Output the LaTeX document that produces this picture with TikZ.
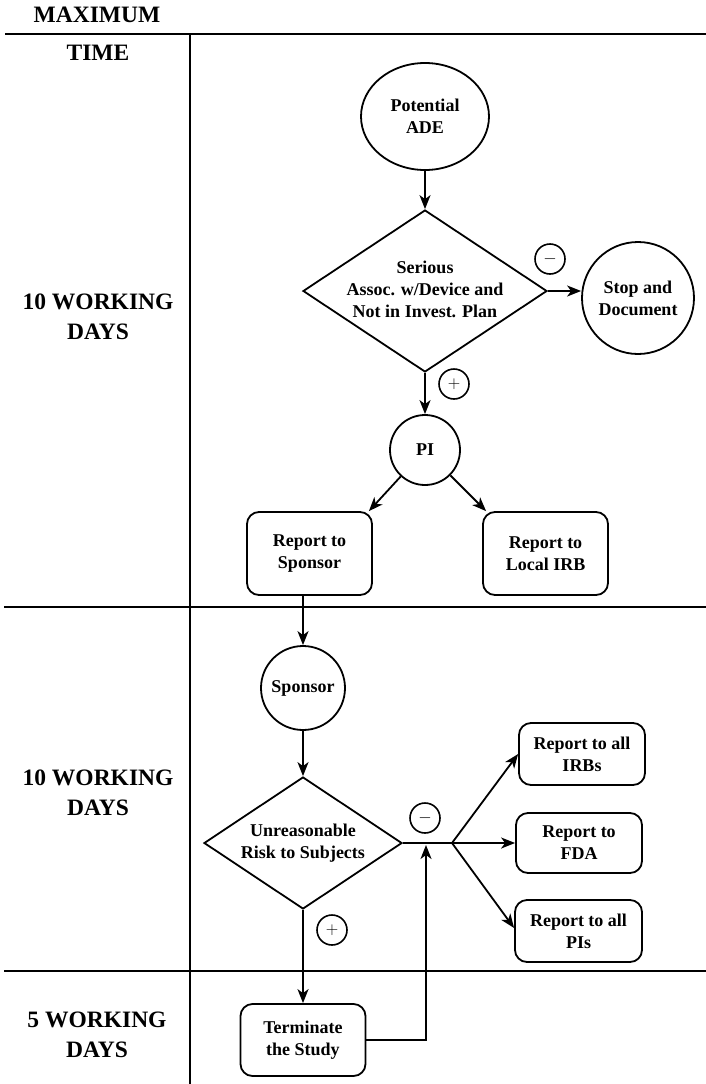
\documentclass[tikz,border=0pt]{standalone}
\usepackage{fontspec}
\setmainfont{Liberation Serif}
\usetikzlibrary{shapes.geometric,arrows.meta}
\newcommand{\ctext}[1]{\makebox[0pt]{\begin{tabular}{@{}c@{}}#1\end{tabular}}}
\begin{document}
\begin{tikzpicture}[x=1pt,y=-1pt,line width=1.8pt,
  lbl/.style={font=\fontsize{18}{22}\selectfont\bfseries, align=center},
  circ/.style={circle, draw, inner sep=0pt, lbl},
  bx/.style={rectangle, rounded corners=12pt, draw, inner sep=0pt, lbl},
  dia/.style={diamond, draw, inner sep=0pt, lbl},
  sign/.style={circle, draw, minimum size=30pt, inner sep=0pt, line width=1.6pt, font=\fontsize{16}{16}\selectfont},
  timelbl/.style={font=\fontsize{23.5}{30}\selectfont\bfseries, align=center},
  arr/.style={-{Stealth[length=14pt,width=11pt,inset=4pt]}},
  rule/.style={line width=2pt}]
\useasboundingbox (0,0) rectangle (706,1084);
% table rules
\draw[rule] (5,34) -- (706,34);
\draw[rule] (190,34) -- (190,1084);
\draw[rule] (4,607) -- (706,607);
\draw[rule] (4,971) -- (706,971);
% time labels
\node[timelbl] (hmax) at (97,15) {MAXIMUM};
\node[timelbl] (htime) at (98,53) {TIME};
\node[timelbl] (t1) at (98,317) {10 WORKING\\DAYS};
\node[timelbl] (t2) at (98,793) {10 WORKING\\DAYS};
\node[timelbl] (t3) at (97,1035) {5 WORKING\\DAYS};
% flow nodes
\node[ellipse, draw, inner sep=0pt, lbl, minimum width=128pt, minimum height=107pt] (pade) at (425,116.5) {Potential\\ADE};
\node[dia, minimum width=244pt, minimum height=162pt] (d1) at (425,291) {\ctext{Serious\\Assoc. w/Device and\\Not in Invest. Plan}};
\node[circ, minimum size=112pt] (stop) at (638,298) {Stop and\\Document};
\node[sign] (m1) at (550,259) {$-$};
\node[sign] (p1) at (454,384) {$+$};
\node[circ, minimum size=70pt] (pi) at (425,450) {PI};
\node[bx, minimum width=125pt, minimum height=83pt] (rs) at (309.5,553.5) {Report to\\Sponsor};
\node[bx, minimum width=125pt, minimum height=83pt] (rl) at (545.5,553.5) {Report to\\Local IRB};
\node[circ, minimum size=84pt] (sp) at (303,688) {Sponsor};
\node[dia, minimum width=198pt, minimum height=132pt] (d2) at (303,843) {\ctext{Unreasonable\\Risk to Subjects}};
\node[sign] (m2) at (425,818) {$-$};
\node[sign] (p2) at (332,930) {$+$};
\coordinate (br) at (452,843);
\node[bx, minimum width=126pt, minimum height=62pt] (irb) at (582,754) {Report to all\\IRBs};
\node[bx, minimum width=126pt, minimum height=60pt] (fda) at (579,843) {Report to\\FDA};
\node[bx, minimum width=127pt, minimum height=62pt] (pis) at (578.5,931) {Report to all\\PIs};
\node[bx, minimum width=125pt, minimum height=72pt] (term) at (303,1040) {Terminate\\the Study};
\coordinate (fb) at (426,1040);
\coordinate (fbend) at (426,845);
% connectors
\draw[arr] (pade.south) -- (d1.north);
\draw[arr] (d1.east) -- (d1.east -| stop.west);
\draw[arr] (d1.south) -- (pi.north);
\draw[arr] (pi) -- ([xshift=-4pt]rs.north east);
\draw[arr] (pi) -- ([xshift=4pt]rl.north west);
\draw[arr] (rs.south -| sp.north) -- (sp.north);
\draw[arr] (sp.south) -- (d2.north);
\draw (d2.east) -- (br);
\draw[arr] (br) -- (irb.west);
\draw[arr] (br) -- (fda.west);
\draw[arr] (br) -- ([yshift=3pt]pis.west);
\draw[arr] (d2.south) -- (term.north);
\draw[arr] (term.east) -- (fb) -- (fbend);
\end{tikzpicture}
\end{document}
